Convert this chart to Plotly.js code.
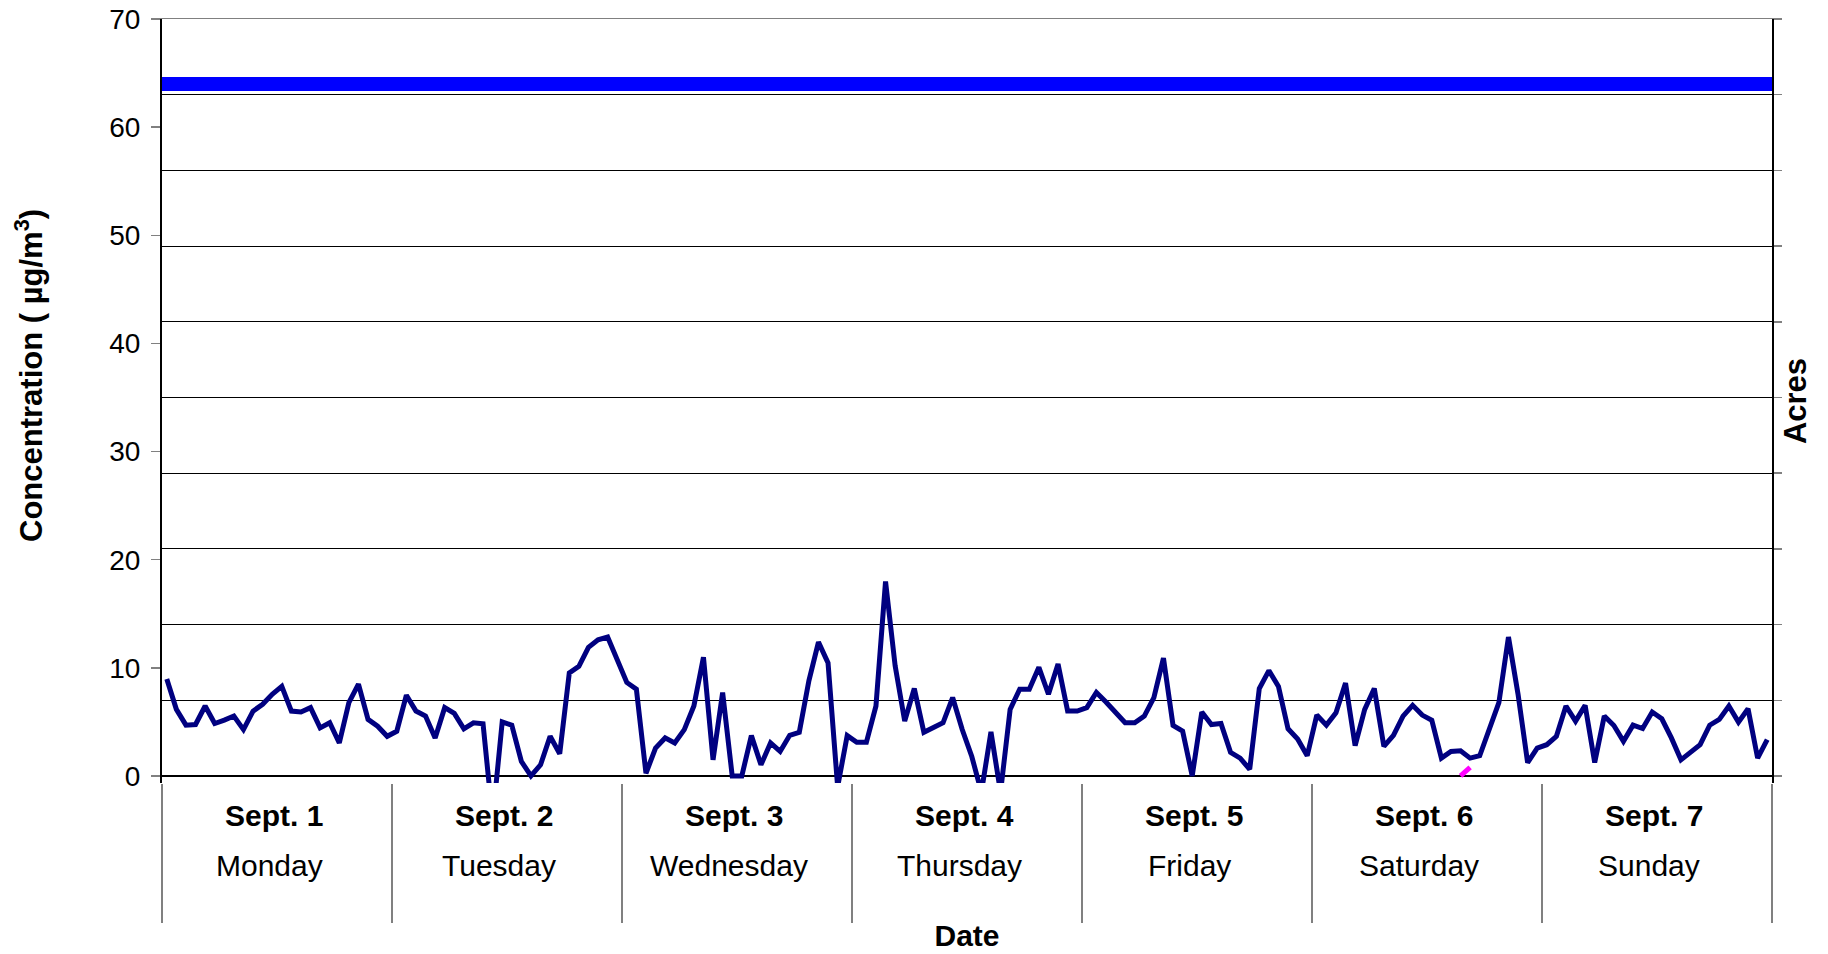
<!DOCTYPE html>
<html>
<head>
<meta charset="utf-8">
<script src="https://cdn.plot.ly/plotly-3.0.1.min.js"></script>
<style>
  html, body { margin: 0; padding: 0; background: #ffffff; }
  #chart { width: 1828px; height: 954px; }
</style>
</head>
<body>
<div id="chart"></div>
<script>
// ---- Data ----
const days = ['Sept. 1', 'Sept. 2', 'Sept. 3', 'Sept. 4', 'Sept. 5', 'Sept. 6', 'Sept. 7'];
const weekdays = ['Monday', 'Tuesday', 'Wednesday', 'Thursday', 'Friday', 'Saturday', 'Sunday'];
const hoursPerDay = 24;

// Hourly concentration (µg/m3), one array per day
const concSept1 = [8.96, 6.16, 4.70, 4.76, 6.47, 4.85, 5.16, 5.54, 4.29, 6.00, 6.63, 7.56, 8.28, 6.00, 5.91, 6.32, 4.45, 4.92, 3.05, 6.78, 8.49, 5.23, 4.60, 3.67];
const concSept2 = [4.14, 7.47, 6.00, 5.54, 3.52, 6.32, 5.79, 4.36, 4.92, 4.82, -4.0, 5.00, 4.70, 1.34, 0.00, 1.03, 3.67, 2.05, 9.52, 10.14, 11.90, 12.60, 12.85, 10.76];
const concSept3 = [8.65, 8.03, 0.25, 2.58, 3.52, 3.05, 4.29, 6.47, 10.98, 1.49, 7.72, 0.00, 0.00, 3.73, 1.03, 3.05, 2.27, 3.76, 4.04, 8.80, 12.38, 10.45, -1.0, 3.73];
const concSept4 = [3.11, 3.11, 6.47, 17.98, 10.20, 5.07, 8.09, 4.04, 4.45, 4.92, 7.25, 4.29, 1.80, -1.5, 4.07, -1.5, 6.16, 8.03, 8.03, 10.05, 7.56, 10.36, 6.00, 6.00];
const concSept5 = [6.32, 7.72, 6.84, 5.85, 4.92, 4.92, 5.54, 7.25, 10.89, 4.67, 4.14, 0.00, 5.91, 4.76, 4.85, 2.18, 1.65, 0.62, 8.09, 9.74, 8.28, 4.36, 3.42, 1.87];
const concSept6 = [5.63, 4.70, 5.85, 8.59, 2.80, 6.16, 8.09, 2.74, 3.76, 5.54, 6.53, 5.63, 5.16, 1.65, 2.27, 2.33, 1.65, 1.87, 4.45, 6.78, 12.85, 7.56, 1.24, 2.58];
const concSept7 = [2.89, 3.67, 6.47, 5.07, 6.53, 1.24, 5.54, 4.67, 3.20, 4.70, 4.39, 5.91, 5.29, 3.52, 1.49, 2.12, 2.89, 4.70, 5.23, 6.47, 4.98, 6.22, 1.65, 3.36];

// Second (magenta) series: only two hourly values present, on Sept. 6
const pinkSept6 = [null, null, null, null, null, null, null, null, null, null, null, null, null, null, null, 0.0, 0.8, null, null, null, null, null, null, null];

// Horizontal reference level (µg/m3)
const standardLevel = 64;
const standardSpan = [0, 1];

// Axis texts
const yTitle = 'Concentration ( µg/m<sup>3</sup>)';
const y2Title = 'Acres';
const xTitle = 'Date';

// ---- Build traces ----
const concByDay = [concSept1, concSept2, concSept3, concSept4, concSept5, concSept6, concSept7];
const pinkByDay = { 5: pinkSept6 };

const hourIndex = [];
const concentration = [];
const pink = [];
concByDay.forEach(function (arr, d) {
  arr.forEach(function (v, h) {
    hourIndex.push(d * hoursPerDay + h);
    concentration.push(v);
    const p = pinkByDay[d];
    pink.push(p ? p[h] : null);
  });
});

const dayBoundaries = [];
for (let d = 0; d <= days.length; d++) dayBoundaries.push(d * hoursPerDay - 0.5);

const FONT = 'Liberation Sans, Arial, Helvetica, sans-serif';

const traces = [
  {
    x: hourIndex, y: concentration, type: 'scatter', mode: 'lines',
    line: { color: '#000080', width: 5 }, xaxis: 'x', yaxis: 'y', hoverinfo: 'skip'
  },
  {
    x: hourIndex, y: pink, type: 'scatter', mode: 'lines', connectgaps: false,
    line: { color: '#FF00FF', width: 5 }, xaxis: 'x', yaxis: 'y', hoverinfo: 'skip'
  },
  {
    x: standardSpan, y: standardSpan.map(function () { return standardLevel; }),
    type: 'scatter', mode: 'lines', line: { color: '#0000FF', width: 14 },
    xaxis: 'x2', yaxis: 'y', hoverinfo: 'skip'
  },
  {
    x: [], y: [], type: 'scatter', mode: 'lines', xaxis: 'x', yaxis: 'y2', hoverinfo: 'skip'
  }
];

const annotations = [];
days.forEach(function (label, d) {
  const center = d * hoursPerDay + (hoursPerDay - 1) / 2;
  annotations.push({
    x: center, xref: 'x', y: 0, yref: 'paper', yanchor: 'middle', xanchor: 'center',
    yshift: -32, xshift: -3, showarrow: false, text: label,
    font: { family: FONT, size: 30, color: '#000', weight: 'bold' }
  });
  annotations.push({
    x: center, xref: 'x', y: 0, yref: 'paper', yanchor: 'middle', xanchor: 'center',
    yshift: -82, xshift: -8, showarrow: false, text: weekdays[d],
    font: { family: FONT, size: 30, color: '#000' }
  });
});
// y-axis title (placed like the reference: slightly above the plot's middle)
annotations.push({
  x: 0, xref: 'paper', xshift: -133, xanchor: 'center',
  y: 0.5, yref: 'paper', yshift: 25, yanchor: 'middle',
  textangle: -90, showarrow: false, text: yTitle,
  font: { family: FONT, size: 31, color: '#000', weight: 'bold' }
});

const yMin = -0.65, yMax = 70;
const gridStep = 7;

const layout = {
  width: 1828, height: 954,
  margin: { l: 162, r: 56, t: 19, b: 171, pad: 0 },
  paper_bgcolor: '#ffffff', plot_bgcolor: '#ffffff',
  showlegend: false,
  font: { family: FONT, color: '#000' },
  xaxis: {
    type: 'linear', range: [dayBoundaries[0], dayBoundaries[dayBoundaries.length - 1]],
    tickmode: 'array', tickvals: dayBoundaries, showticklabels: false,
    ticks: 'outside', ticklen: 139, tickwidth: 1.5, tickcolor: '#808080',
    showgrid: false, zeroline: false, showline: false, fixedrange: true,
    title: { text: xTitle, font: { family: FONT, size: 30, weight: 'bold' }, standoff: 2 }
  },
  xaxis2: {
    overlaying: 'x', side: 'top', anchor: 'y', range: [0, 1],
    showline: true, linecolor: '#808080', linewidth: 1.5,
    showticklabels: false, ticks: '', showgrid: false, zeroline: false
  },
  yaxis: {
    range: [yMin, yMax], tick0: 0, dtick: 10,
    ticks: 'outside', ticklen: 9, tickwidth: 1.5, tickcolor: '#808080',
    ticklabelstandoff: 5,
    tickfont: { family: FONT, size: 28, color: '#000' },
    showline: true, linecolor: '#000', linewidth: 2,
    showgrid: false, zeroline: true, zerolinecolor: '#000', zerolinewidth: 2
  },
  yaxis2: {
    overlaying: 'y', side: 'right', anchor: 'x',
    range: [yMin / gridStep, yMax / gridStep], tick0: 0, dtick: 1,
    showgrid: true, gridcolor: '#000', gridwidth: 1,
    showline: true, linecolor: '#000', linewidth: 1.5,
    ticks: 'outside', ticklen: 8, tickwidth: 1.5, tickcolor: '#808080',
    showticklabels: false, zeroline: false,
    title: { text: y2Title, font: { family: FONT, size: 31, weight: 'bold' }, standoff: 4 }
  },
  annotations: annotations
};

Plotly.newPlot('chart', traces, layout, { staticPlot: true, displayModeBar: false });
</script>
</body>
</html>
